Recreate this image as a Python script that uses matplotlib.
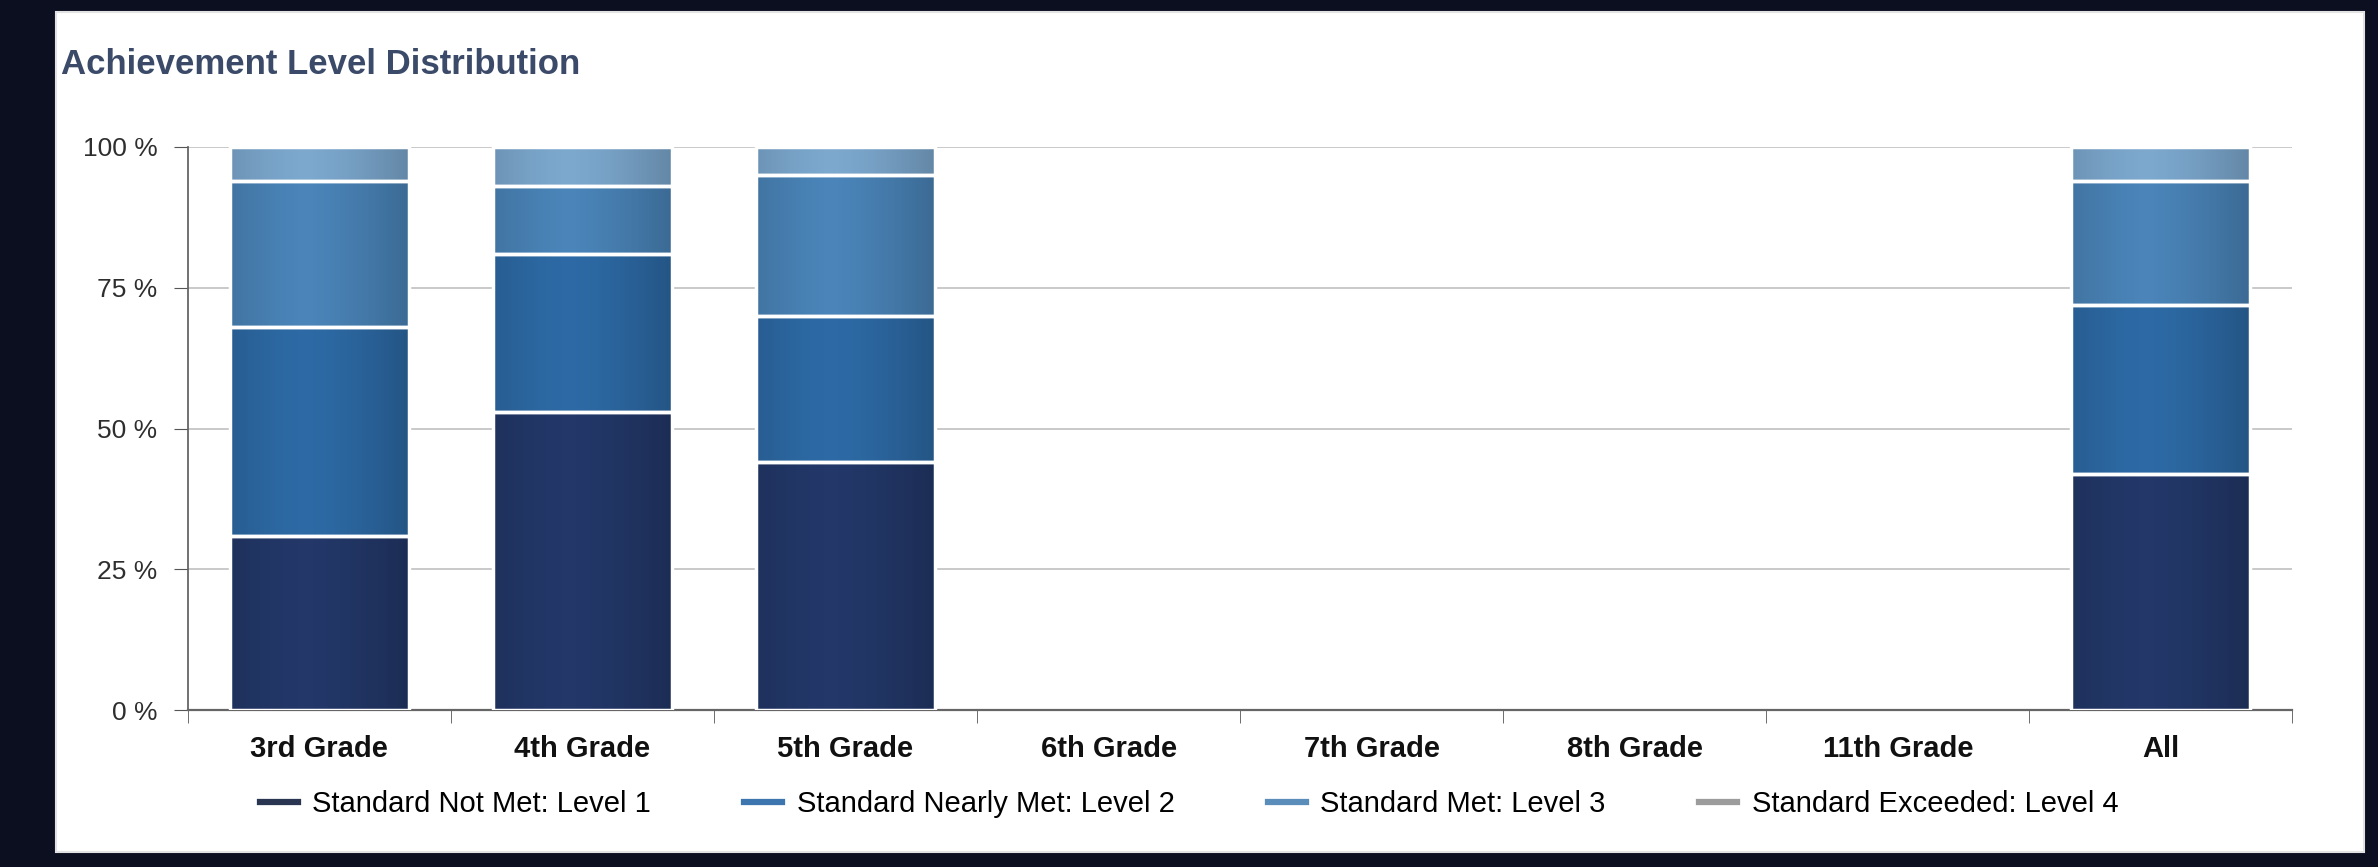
import numpy as np
import matplotlib
matplotlib.use("Agg")
import matplotlib.pyplot as plt
from matplotlib.patches import Rectangle
from matplotlib.lines import Line2D

plt.rcParams["font.family"] = ["Liberation Sans", "DejaVu Sans"]

# datos (porcentaje por nivel)
grades = ["3rd Grade", "4th Grade", "5th Grade", "6th Grade", "7th Grade",
          "8th Grade", "11th Grade", "All"]
level1 = [31, 53, 44, np.nan, np.nan, np.nan, np.nan, 42]
level2 = [37, 28, 26, np.nan, np.nan, np.nan, np.nan, 30]
level3 = [26, 12, 25, np.nan, np.nan, np.nan, np.nan, 22]
level4 = [6, 7, 5, np.nan, np.nan, np.nan, np.nan, 6]
level_names = ["Standard Not Met: Level 1", "Standard Nearly Met: Level 2",
               "Standard Met: Level 3", "Standard Exceeded: Level 4"]
y_ticks = [0, 25, 50, 75, 100]
y_labels = ["0 %", "25 %", "50 %", "75 %", "100 %"]

bar_colors = ["#233869", "#2d6aa5", "#4a84b8", "#7ca8ce"]
legend_colors = ["#2a3552", "#3d76ae", "#5a8dba", "#9c9c9c"]


def add_shading(ax, patch):
    # sombreado horizontal suave (bordes mas oscuros) recortado a la barra
    x0, y0 = patch.get_x(), patch.get_y()
    w, h = patch.get_width(), patch.get_height()
    if not np.isfinite(h) or h <= 0:
        return
    t = np.linspace(0, 1, 200)
    alpha = 0.2 * (np.abs(t - 0.42) / 0.58) ** 1.5
    img = np.zeros((1, len(t), 4))
    img[0, :, 3] = alpha
    im = ax.imshow(img, extent=(x0, x0 + w, y0, y0 + h), aspect="auto",
                   interpolation="bilinear", zorder=3.5)
    im.set_clip_path(patch)


def main():
    fig = plt.figure(figsize=(23.78, 8.67), dpi=100)
    fig.patch.set_facecolor("#0c0f20")

    # panel blanco detras de los ejes
    fig.patches.append(Rectangle((0.0235, 0.017), 0.9705, 0.969,
                                 transform=fig.transFigure, facecolor="white",
                                 edgecolor="#e2e2e2", lw=1.5, zorder=-5))

    ax = fig.add_axes([0.079, 0.181, 0.885, 0.6495])
    ax.set_zorder(2)
    ax.set_facecolor("white")

    x = np.arange(len(grades))
    levels = [level1, level2, level3, level4]
    bottom = np.zeros(len(grades))
    for vals, col in zip(levels, bar_colors):
        vals = np.array(vals, dtype=float)
        bars = ax.bar(x, vals, 0.68, bottom=bottom, color=col,
                      edgecolor="none", zorder=3)
        for p in bars:
            add_shading(ax, p)
        # linea blanca de separacion encima de cada segmento
        ax.bar(x, vals, 0.68, bottom=bottom, color="none", edgecolor="white",
               linewidth=2.5, zorder=4)
        bottom = bottom + np.nan_to_num(vals)

    ax.set_xlim(-0.5, len(grades) - 0.5)
    ax.set_ylim(0, 100)
    ax.set_yticks(y_ticks)
    ax.set_yticklabels(y_labels, fontsize=19, color="#2e2e2e")
    ax.set_xticks(x)
    ax.set_xticklabels(grades, fontsize=21, fontweight="bold", color="#111111")
    ax.set_xticks(np.arange(len(grades) + 1) - 0.5, minor=True)
    ax.tick_params(axis="x", which="major", length=0, pad=18)
    ax.tick_params(axis="x", which="minor", length=9, color="#555555")
    ax.tick_params(axis="y", length=10, color="#555555", pad=12)

    ax.grid(True, axis="y", color="#c0c0c0", lw=1.2, zorder=0)
    for s in ["top", "right"]:
        ax.spines[s].set_visible(False)
    ax.spines["left"].set_color("#666666")
    ax.spines["bottom"].set_color("#666666")
    ax.spines["left"].set_linewidth(1.3)
    ax.spines["bottom"].set_linewidth(1.6)

    fig.text(0.0257, 0.926, "Achievement Level Distribution", fontsize=25,
             fontweight="bold", color="#3b4a68", va="center", ha="left")

    handles = [Line2D([0], [0], color=c, lw=4.5) for c in legend_colors]
    fig.legend(handles, level_names, loc="center", ncol=4,
               bbox_to_anchor=(0.5, 0.073), frameon=False, fontsize=21,
               handlelength=1.3, columnspacing=3.2, handletextpad=0.5)

    fig.savefig("out.png", dpi=100, facecolor=fig.get_facecolor())
    plt.close(fig)


if __name__ == "__main__":
    main()
